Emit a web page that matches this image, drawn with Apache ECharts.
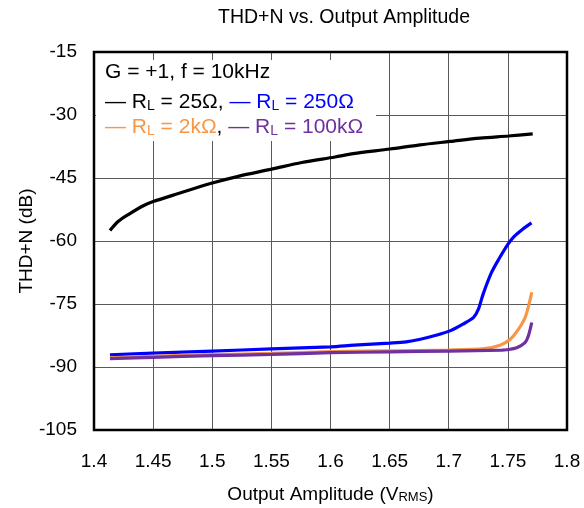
<!DOCTYPE html>
<html>
<head>
<meta charset="utf-8">
<script src="https://cdn.jsdelivr.net/npm/echarts@6/dist/echarts.min.js"></script>
<style>
html,body{margin:0;padding:0;background:#fff;}
#chart{width:584px;height:508px;}
</style>
</head>
<body>
<div id="chart"></div>
<script>
// ---- data ----
var titleText = 'THD+N vs. Output Amplitude';
var yAxisTitle = 'THD+N (dB)';
var xTicks = [1.4, 1.45, 1.5, 1.55, 1.6, 1.65, 1.7, 1.75, 1.8];
var yTicks = [-105, -90, -75, -60, -45, -30, -15];
var seriesNames = ['RL = 25Ω', 'RL = 250Ω', 'RL = 2kΩ', 'RL = 100kΩ'];

var rl25 = [
  [1.4135,-57.5],[1.4206,-55.3],[1.429,-53.7],[1.4417,-51.6],[1.4501,-50.6],
  [1.4713,-48.7],[1.500,-46.2],[1.522,-44.6],[1.5503,-42.9],[1.5757,-41.3],
  [1.6038,-40.0],[1.6193,-39.2],[1.6503,-38.1],[1.6757,-37.1],[1.701,-36.3],
  [1.7264,-35.5],[1.7504,-35.0],[1.771,-34.5]
];
var rl250 = [
  [1.4135,-87.1],[1.45,-86.7],[1.5,-86.2],[1.55,-85.7],[1.6,-85.2],[1.62,-84.8],
  [1.65,-84.3],[1.664,-84.0],[1.676,-83.4],[1.69,-82.4],[1.701,-81.4],[1.712,-79.8],
  [1.721,-78.2],[1.725,-76.3],[1.729,-72.7],[1.736,-67.6],[1.743,-64.0],[1.750,-60.8],
  [1.755,-59.0],[1.762,-57.3],[1.770,-55.7]
];
var rl2k = [
  [1.4135,-87.8],[1.45,-87.45],[1.5,-87.05],[1.55,-86.75],[1.6,-86.35],[1.65,-86.15],
  [1.7,-85.95],[1.73,-85.6],[1.7434,-84.8],[1.752,-83.4],[1.759,-81.0],[1.765,-77.9],
  [1.7702,-72.2]
];
var rl100k = [
  [1.4135,-88.0],[1.45,-87.7],[1.5,-87.3],[1.55,-87.0],[1.6,-86.6],[1.65,-86.4],
  [1.7,-86.2],[1.745,-86.0],[1.749,-85.9],[1.7575,-85.4],[1.7645,-84.2],[1.7673,-82.6],
  [1.7702,-79.4]
];

var colors = ['#000000', '#0000ff', '#f79646', '#7030a0'];
var FONT = '"Liberation Sans", Arial, sans-serif';

var chart = echarts.init(document.getElementById('chart'), null, {renderer: 'canvas'});

function mkSeries(name, data, color) {
  return {
    name: name, type: 'line', data: data, smooth: 0.3, showSymbol: false,
    lineStyle: {color: color, width: 3.2}, itemStyle: {color: color},
    animation: false, clip: true
  };
}

function tok(color, sub) {
  return sub
    ? {fontSize: 14, fill: color, fontFamily: FONT, lineHeight: 12, verticalAlign: 'bottom'}
    : {fontSize: 21, fill: color, fontFamily: FONT, lineHeight: 27, verticalAlign: 'bottom'};
}
var legendRich = {
  k: tok(colors[0]), ks: tok(colors[0], true),
  b: tok(colors[1]), bs: tok(colors[1], true),
  o: tok(colors[2]), os: tok(colors[2], true),
  p: tok(colors[3]), ps: tok(colors[3], true)
};

var option = {
  backgroundColor: '#ffffff',
  animation: false,
  textStyle: {fontFamily: FONT},
  grid: {left: 94, right: 17, top: 52, bottom: 78, containLabel: false, outerBoundsMode: 'none'},
  xAxis: {
    type: 'value', min: 1.4, max: 1.8, interval: 0.05,
    axisLine: {show: false},
    axisTick: {show: false},
    splitLine: {show: true, lineStyle: {color: '#5a5a5a', width: 1}},
    axisLabel: {
      color: '#000', fontSize: 19, fontFamily: FONT, margin: 22,
      formatter: function (v) { return String(parseFloat(v.toFixed(2))); }
    },
    name: '{a|Output Amplitude (V}{s|RMS}{a|)}',
    nameLocation: 'middle', nameGap: 50,
    nameTextStyle: {rich: {
      a: {fontSize: 19, color: '#000', fontFamily: FONT, lineHeight: 24, verticalAlign: 'bottom'},
      s: {fontSize: 13, color: '#000', fontFamily: FONT, lineHeight: 6, verticalAlign: 'bottom'}
    }}
  },
  yAxis: {
    type: 'value', min: -105, max: -15, interval: 15,
    axisLine: {show: false},
    axisTick: {show: false},
    splitLine: {show: true, lineStyle: {color: '#5a5a5a', width: 1}},
    axisLabel: {color: '#000', fontSize: 19, fontFamily: FONT, margin: 17}
  },
  series: [
    mkSeries(seriesNames[0], rl25, colors[0]),
    mkSeries(seriesNames[1], rl250, colors[1]),
    mkSeries(seriesNames[2], rl2k, colors[2]),
    mkSeries(seriesNames[3], rl100k, colors[3])
  ],
  graphic: [
    {type: 'rect', shape: {x: 96, y: 60, width: 280, height: 81}, style: {fill: '#fff'}, z: 5, silent: true},
    {type: 'rect', shape: {x: 94, y: 52, width: 473, height: 378}, style: {fill: 'none', stroke: '#000', lineWidth: 2.5}, z: 20, silent: true},
    {type: 'text', x: 344, y: 8, z: 20,
      style: {text: titleText, fill: '#000', font: '19.5px ' + FONT, textAlign: 'center'}},
    {type: 'text', x: 27, y: 241, rotation: Math.PI / 2, z: 20,
      style: {text: yAxisTitle, fill: '#000', font: '19px ' + FONT, textAlign: 'center', textVerticalAlign: 'middle'}},
    {type: 'text', x: 105, y: 62, z: 20,
      style: {text: 'G = +1, f = 10kHz', fill: '#000', font: '21px ' + FONT}},
    {type: 'text', x: 105, y: 86, z: 20,
      style: {text: '{k|— R}{ks|L}{k| = 25Ω, }{b|— R}{bs|L}{b| = 250Ω}', rich: legendRich}},
    {type: 'text', x: 105, y: 111, z: 20,
      style: {text: '{o|— R}{os|L}{o| = 2kΩ}{k|, }{p|— R}{ps|L}{p| = 100kΩ}', rich: legendRich}}
  ]
};
chart.setOption(option);
</script>
</body>
</html>
